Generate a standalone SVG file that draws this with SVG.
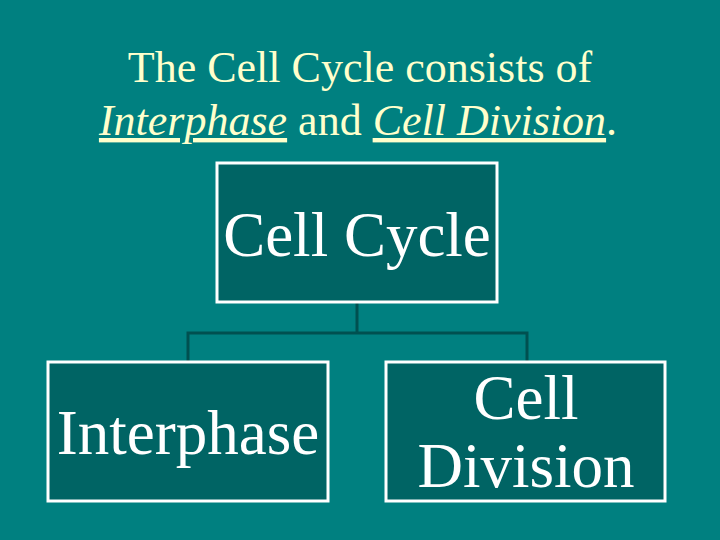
<svg xmlns="http://www.w3.org/2000/svg" width="720" height="540" viewBox="0 0 720 540">
<style>
.box{fill:#006464;stroke:#ffffff;stroke-width:3}
.t{font-family:"Liberation Serif",serif;fill:#ffffff;text-anchor:middle}
.h{font-family:"Liberation Serif",serif;fill:#ffffcc;font-size:44px}
</style>
<rect width="720" height="540" fill="#008080"/>
<text class="h" x="360" y="82" text-anchor="middle">The Cell Cycle consists of</text>
<text class="h" x="358" y="135" text-anchor="middle"><tspan font-style="italic" text-decoration="underline">Interphase</tspan> and <tspan font-style="italic" text-decoration="underline">Cell Division</tspan>.</text>
<g id="connectors" fill="none" stroke="#005050" stroke-width="3">
<path d="M357 303V333M188 362V333H527V362"/>
</g>
<g id="cellcycle"><rect class="box" x="217" y="163" width="280" height="139"/><text class="t" x="357" y="256" font-size="63">Cell Cycle</text></g>
<g id="interphase"><rect class="box" x="48" y="362" width="280" height="139"/><text class="t" x="188" y="454" font-size="63">Interphase</text></g>
<g id="celldivision"><rect class="box" x="386" y="362" width="279" height="139"/><text class="t" x="526" y="419" font-size="63">Cell</text><text class="t" x="526" y="487" font-size="63">Division</text></g>
</svg>
